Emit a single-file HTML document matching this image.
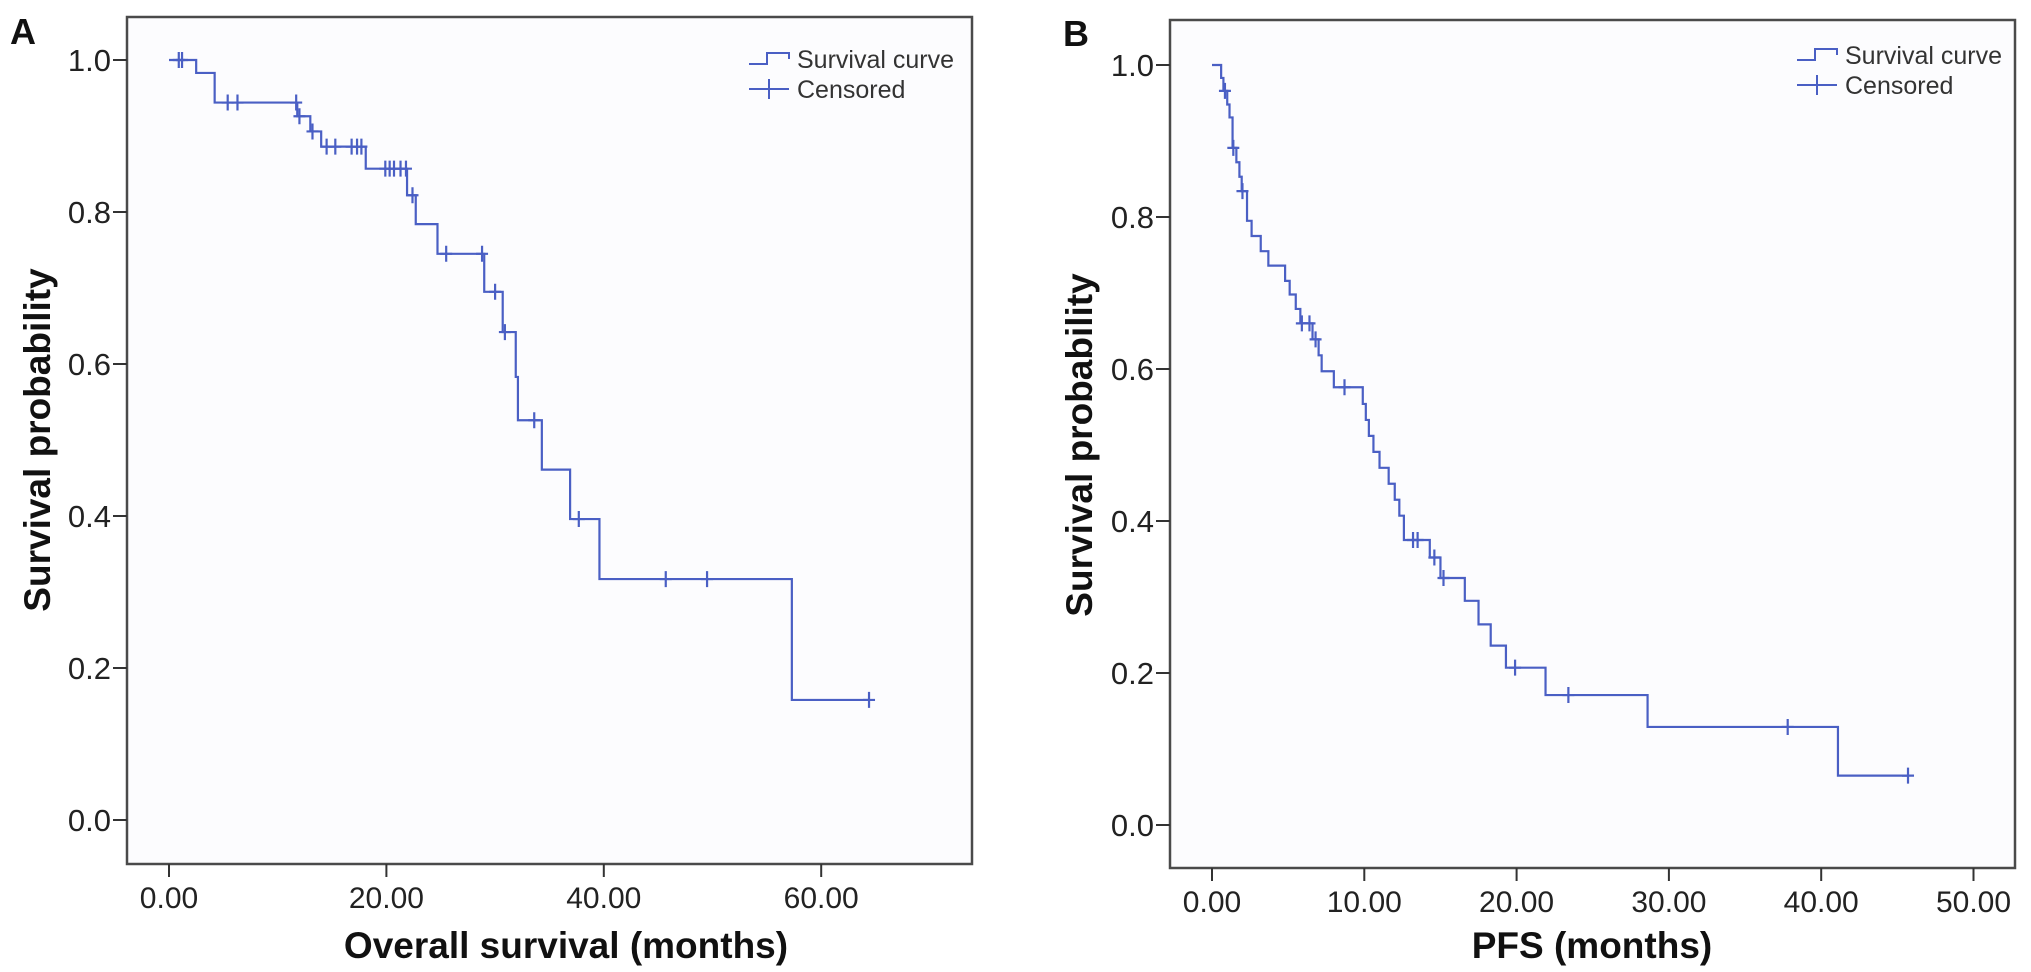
<!DOCTYPE html>
<html><head><meta charset="utf-8">
<style>
html,body{margin:0;padding:0;background:#fff;}
svg{display:block;font-family:"Liberation Sans",Arial,sans-serif;}
</style></head>
<body>
<svg id="fig" width="2031" height="972" viewBox="0 0 2031 972" xmlns="http://www.w3.org/2000/svg">
<rect x="0" y="0" width="2031" height="972" fill="#ffffff"/>
<text x="10" y="44" font-size="36" font-weight="bold" fill="#111">A</text>
<text x="1063" y="46" font-size="36" font-weight="bold" fill="#111">B</text>
<g id="panelA"></g>
<g id="panelB"></g>
</svg>
<script>
// Panel A data (Overall survival)
const aEventTimes = [2.5, 4.2, 11.8, 13.0, 14.0, 18.1, 21.9, 22.7, 24.7, 29.0, 30.7, 31.9, 32.1, 34.3, 36.9, 39.6, 57.3];
const aSurvival   = [0.983, 0.944, 0.926, 0.906, 0.886, 0.857, 0.822, 0.784, 0.745, 0.695, 0.642, 0.583, 0.526, 0.461, 0.396, 0.317, 0.158];
const aCensorTimes = [0.9, 1.2, 5.4, 6.3, 11.7, 12.0, 13.2, 14.5, 15.3, 16.8, 17.3, 17.7, 19.9, 20.3, 20.7, 21.3, 21.8, 22.4, 25.5, 28.8, 30.0, 30.9, 33.6, 37.7, 45.7, 49.5, 64.4];
const aEndTime = 64.4;
const aXTicks = [0, 20, 40, 60];
const aXTickLabels = ["0.00", "20.00", "40.00", "60.00"];
// Panel B data (PFS)
const bEventTimes = [0.6, 0.75, 1.0, 1.15, 1.35, 1.6, 1.8, 1.95, 2.3, 2.6, 3.2, 3.7, 4.8, 5.1, 5.5, 5.8, 6.6, 7.0, 7.2, 8.0, 9.9, 10.1, 10.3, 10.6, 11.0, 11.6, 12.0, 12.3, 12.6, 14.3, 15.0, 16.6, 17.5, 18.3, 19.3, 21.9, 28.6, 41.1];
const bSurvival   = [0.983, 0.966, 0.948, 0.931, 0.891, 0.872, 0.853, 0.834, 0.795, 0.775, 0.755, 0.736, 0.716, 0.698, 0.679, 0.660, 0.639, 0.618, 0.597, 0.576, 0.554, 0.533, 0.512, 0.491, 0.470, 0.449, 0.428, 0.407, 0.375, 0.352, 0.325, 0.295, 0.264, 0.236, 0.207, 0.171, 0.129, 0.065];
const bCensorTimes = [0.85, 1.4, 2.0, 5.9, 6.4, 6.8, 8.7, 13.2, 13.5, 14.6, 15.2, 19.9, 23.4, 37.8, 45.7];
const bEndTime = 45.7;
const bXTicks = [0, 10, 20, 30, 40, 50];
const bXTickLabels = ["0.00", "10.00", "20.00", "30.00", "40.00", "50.00"];
const yTicks = [0, 0.2, 0.4, 0.6, 0.8, 1.0];
const yTickLabels = ["0.0", "0.2", "0.4", "0.6", "0.8", "1.0"];

const NS = "http://www.w3.org/2000/svg";
const LINE = "#4a5fc4";
function mk(tag, attrs, parent){const e=document.createElementNS(NS,tag);for(const k in attrs)e.setAttribute(k,attrs[k]);parent.appendChild(e);return e;}

function drawPanel(g, cfg){
  const xs = t => cfg.x0 + cfg.xs * t;
  const ys = v => cfg.y0 - cfg.ys * v;
  const bg = mk("rect",{x:cfg.L,y:cfg.T,width:cfg.R-cfg.L,height:cfg.B-cfg.T,fill:"#fcfcfe",stroke:"none"},g);
  
  
  const fr = mk("rect",{x:cfg.L,y:cfg.T,width:cfg.R-cfg.L,height:cfg.B-cfg.T,fill:"none",stroke:"#4a4a4a","stroke-width":2.5},g);
  
  
  yTicks.forEach((v,i)=>{
    const tk = mk("line",{x1:cfg.L-14,x2:cfg.L,y1:ys(v),y2:ys(v),stroke:"#333","stroke-width":2},g);
    
    
    const tl = mk("text",{x:cfg.L-16,y:ys(v)+11,"font-size":31,"text-anchor":"end",fill:"#222"},g);
    tl.textContent = yTickLabels[i];
    
    
  });
  cfg.xTicks.forEach((t,i)=>{
    const tk = mk("line",{x1:xs(t),x2:xs(t),y1:cfg.B,y2:cfg.B+13,stroke:"#333","stroke-width":2},g);
    
    
    const tl = mk("text",{x:xs(t),y:cfg.B+44,"font-size":30,"text-anchor":"middle",fill:"#222"},g);
    tl.textContent = cfg.xLabels[i];
    
    
  });
  const xt = mk("text",{x:cfg.xTitleX,y:958,"font-size":37,"font-weight":"bold","text-anchor":"middle",fill:"#111"},g);
  xt.textContent = cfg.xTitle;
  
  
  const yt = mk("text",{x:0,y:0,"font-size":37,"font-weight":"bold","text-anchor":"middle",fill:"#111",transform:`translate(${cfg.yTitleX},${(ys(0)+ys(1))/2}) rotate(-90)`},g);
  yt.textContent = "Survival probability";
  
  
  let d = `M${xs(0)},${ys(1)}`;
  cfg.ev.forEach((t,i)=>{ d += ` H${xs(t)} V${ys(cfg.sv[i])}`; });
  d += ` H${xs(cfg.end)}`;
  const p = mk("path",{d:d,fill:"none",stroke:LINE,"stroke-width":2.2},g);
  
  
  const valAt = t => { let v=1; cfg.ev.forEach((e,i)=>{ if(e<=t) v=cfg.sv[i]; }); return v; };
  cfg.cens.forEach(t=>{
    const cx = xs(t), cy = ys(valAt(t));
    const c = mk("path",{d:`M${cx-6},${cy} H${cx+6} M${cx},${cy-8} V${cy+8}`,stroke:LINE,"stroke-width":2.2,fill:"none"},g);
    
    
  });
  const lg = mk("g",{},g);
  
  
  const lx = cfg.legX, ly1 = cfg.T+cfg.legDy, ly2 = cfg.T+cfg.legDy+30;
  const s1 = mk("path",{d:`M${lx},${ly1+5} H${lx+18} V${ly1-6} H${lx+40} V${ly1}`,stroke:LINE,"stroke-width":2,fill:"none"},lg);
  
  
  const t1 = mk("text",{x:lx+48,y:ly1+9,"font-size":25,fill:"#333"},lg);
  t1.textContent = "Survival curve";
  
  
  const s2 = mk("path",{d:`M${lx},${ly2} H${lx+40} M${lx+20},${ly2-10} V${ly2+10}`,stroke:LINE,"stroke-width":2,fill:"none"},lg);
  
  
  const t2 = mk("text",{x:lx+48,y:ly2+9,"font-size":25,fill:"#333"},lg);
  t2.textContent = "Censored";
  
  
}

drawPanel(document.getElementById("panelA"),{
  L:127,T:17,R:972,B:864, x0:169, xs:10.87, y0:820, ys:760,
  xTicks:aXTicks, xLabels:aXTickLabels, xTitle:"Overall survival (months)", xTitleX:566, yTitleX:50,
  ev:aEventTimes, sv:aSurvival, cens:aCensorTimes, end:aEndTime, legX:749, legDy:42
});
drawPanel(document.getElementById("panelB"),{
  L:1170,T:20,R:2015,B:868, x0:1212, xs:15.23, y0:825, ys:760,
  xTicks:bXTicks, xLabels:bXTickLabels, xTitle:"PFS (months)", xTitleX:1592, yTitleX:1092,
  ev:bEventTimes, sv:bSurvival, cens:bCensorTimes, end:bEndTime, legX:1797, legDy:35
});
</script>
</body></html>
